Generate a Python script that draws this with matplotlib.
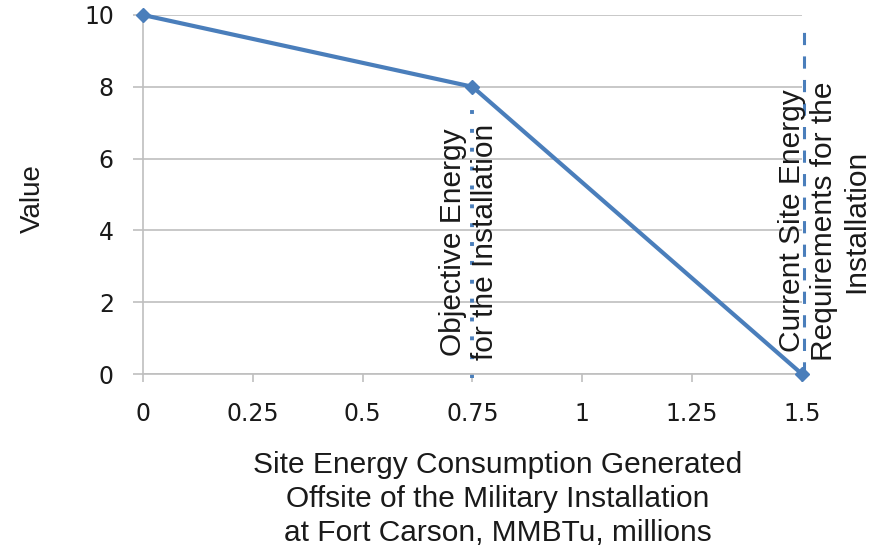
import matplotlib
matplotlib.use("Agg")
import matplotlib.pyplot as plt

# datos de la curva
energia = [0, 0.75, 1.5]
valor = [10, 8, 0]

x_ticks = [0, 0.25, 0.5, 0.75, 1, 1.25, 1.5]
x_tick_labels = ["0", "0.25", "0.5", "0.75", "1", "1.25", "1.5"]
y_ticks = [0, 2, 4, 6, 8, 10]

x_objetivo = 0.75
x_actual = 1.5

AZUL = "#4a7ebb"
GRIS = "#bfbfbf"

plt.rcParams['font.family'] = ['Liberation Sans', 'DejaVu Sans']

fig = plt.figure(figsize=(8.7, 5.55), dpi=100)
ax = fig.add_axes([0.1644, 0.3261, 0.9218 - 0.1644, 0.973 - 0.3261])

ax.set_xlim(0, 1.5)
ax.set_ylim(0, 10)

# lineas de referencia
ax.vlines(x_objetivo, -0.1, 7.7, colors=AZUL, linestyles=(0, (1, 3.85)),
          linewidth=2.8, clip_on=False)
ax.vlines(x_actual + 0.005, 0, 9.75, colors=AZUL, linestyles=(0, (4.0, 3.7)),
          linewidth=2.2, clip_on=False)

ax.plot(energia, valor, color=AZUL, linewidth=3.0, marker="D", markersize=7,
        clip_on=False, zorder=5)

ax.set_yticks(y_ticks)
ax.set_xticks(x_ticks)
ax.set_xticklabels(x_tick_labels)
ax.grid(axis="y", color=GRIS, linewidth=1.2)
ax.set_axisbelow(True)

for s in ["top", "right"]:
    ax.spines[s].set_visible(False)
for s in ["left", "bottom"]:
    ax.spines[s].set_color(GRIS)
    ax.spines[s].set_linewidth(1.2)

ax.tick_params(axis="both", colors=GRIS, width=1.2, labelcolor="#1a1a1a")
ax.tick_params(axis="y", length=7, pad=14)
ax.tick_params(axis="x", length=6, pad=14)
for lab in ax.get_xticklabels() + ax.get_yticklabels():
    lab.set_fontfamily("DejaVu Sans")
    lab.set_fontsize(17)

ax.set_ylabel("Value", fontsize=20, color="#1a1a1a")
ax.yaxis.set_label_coords(-0.148, 0.49)

ax.text(0.742, 3.68, "Objective Energy\nfor the Installation", rotation=90,
        ha="center", va="center", multialignment="center", fontsize=21.5,
        color="#1a1a1a")
ax.text(1.55, 4.26, "Current Site Energy\nRequirements for the\nInstallation",
        rotation=90, ha="center", va="center", multialignment="center",
        fontsize=21.5, color="#1a1a1a", clip_on=False)

fig.text(0.572, 0.188, "Site Energy Consumption Generated\nOffsite of the Military Installation\nat Fort Carson, MMBTu, millions",
         ha="center", va="top", multialignment="center", fontsize=21.5,
         linespacing=1.27, color="#1a1a1a")

fig.savefig("out.png", dpi=100)
